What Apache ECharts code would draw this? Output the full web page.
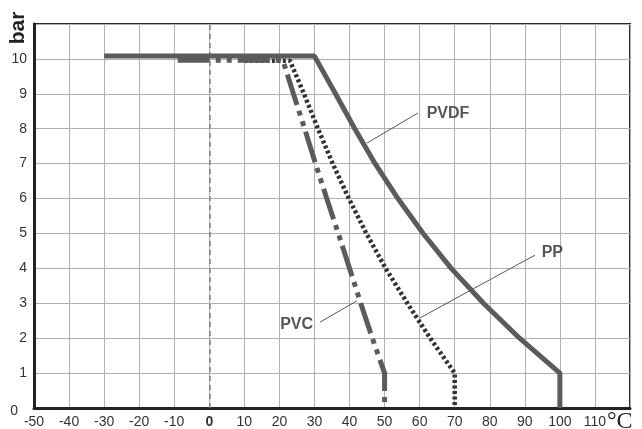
<!DOCTYPE html>
<html>
<head>
<meta charset="utf-8">
<script src="https://cdn.jsdelivr.net/npm/echarts@6/dist/echarts.min.js"></script>
<style>
html,body{margin:0;padding:0;background:#fff;}
#c{width:642px;height:429px;}
</style>
</head>
<body>
<div id="c"></div>
<script>
// x ticks (°C) and y ticks (bar)
const xTicks = [-50, -40, -30, -20, -10, 0, 10, 20, 30, 40, 50, 60, 70, 80, 90, 100, 110];
const yTicks = [0, 1, 2, 3, 4, 5, 6, 7, 8, 9, 10];

// PVDF (solid)
const pvdfTemp = [-30, 30, 36, 41.5, 47.3, 53.8, 61, 69, 78.2, 88.5, 100, 100];
const pvdfBar  = [10.08, 10.08, 9, 8, 7, 6, 5, 4, 3, 2, 1, 0];

// PVC (dash-dot-dot)
const pvcTemp = [-9, 21, 24, 27.2, 30.3, 33.5, 36.8, 40, 43.2, 46.5, 50, 50];
const pvcBar  = [9.96, 9.96, 9, 8, 7, 6, 5, 4, 3, 2, 1, 0];

// PP (dotted)
const ppTemp = [10, 23, 27, 31, 35.2, 39.8, 44.8, 50.3, 56.5, 63, 70, 70];
const ppBar  = [9.95, 9.95, 9, 8, 7, 6, 5, 4, 3, 2, 1, 0];

// labels with leader lines
const labelNames = ['PVDF', 'PP', 'PVC'];
const labelPos   = [[62, 8.42], [94.8, 4.44], [29.6, 2.38]];
const leaderFrom = [[59.5, 8.45], [92.9, 4.38], [31.6, 2.46]];
const leaderTo   = [[45, 7.59], [60.1, 2.58], [42.1, 3.07]];

const zip = (a, b) => a.map((v, i) => [v, b[i]]);
const lineColor = '#5b5b5b';

const series = [
  {
    type: 'line', data: zip(ppTemp, ppBar), symbol: 'none', z: 3,
    lineStyle: { color: '#333', width: 4.5, type: [3, 2.5] },
    markLine: {
      silent: true, symbol: 'none', label: { show: false },
      lineStyle: { color: '#808080', width: 1.5, type: [5, 4] },
      data: [{ xAxis: 0 }]
    }
  },
  {
    type: 'line', data: zip(pvcTemp, pvcBar), symbol: 'none', z: 4,
    lineStyle: { color: lineColor, width: 5, type: [32, 6, 5, 6, 5, 6] }
  },
  {
    type: 'line', data: zip(pvdfTemp, pvdfBar), symbol: 'none', z: 5,
    lineStyle: { color: lineColor, width: 5 }
  }
];

labelNames.forEach((n, i) => {
  series.push({
    type: 'line', data: [leaderFrom[i], leaderTo[i]], symbol: 'none', z: 6,
    lineStyle: { color: '#555', width: 1 }
  });
  series.push({
    type: 'scatter', symbolSize: 0, z: 7,
    data: [{ value: labelPos[i], name: n }],
    label: {
      show: true, formatter: '{b}', position: n === 'PVC' ? 'left' : 'right', distance: 0,
      fontFamily: 'Liberation Sans', fontWeight: 'bold', fontSize: 16, color: '#2a2a2a'
    }
  });
});

const chart = echarts.init(document.getElementById('c'), null, { renderer: 'canvas' });
chart.setOption({
  animation: false,
  backgroundColor: '#fff',
  grid: { left: 34, right: 12, top: 24, bottom: 21, show: true, borderColor: '#2a2a2a', borderWidth: 2 },
  xAxis: {
    type: 'value', min: -50, max: 120, interval: 10,
    axisLine: { show: true, onZero: false, lineStyle: { color: '#222', width: 3 } },
    axisTick: { show: false },
    splitLine: { show: true, lineStyle: { color: '#b0b0b0', width: 1 } },
    axisLabel: {
      margin: 7, fontFamily: 'Liberation Sans', fontSize: 14, color: '#333',
      formatter: v => (xTicks.indexOf(v) < 0 ? '' : (v === 0 ? '{b|0}' : String(v))),
      rich: { b: { fontWeight: 'bold', fontFamily: 'Liberation Sans', fontSize: 14, color: '#333' } }
    }
  },
  yAxis: {
    type: 'value', min: 0, max: 11, interval: 1,
    axisLine: { show: true, onZero: false, lineStyle: { color: '#222', width: 3 } },
    axisTick: { show: false },
    splitLine: { show: true, lineStyle: { color: '#b0b0b0', width: 1 } },
    axisLabel: {
      margin: 7, fontFamily: 'Liberation Sans', fontSize: 14, color: '#333',
      formatter: v => (yTicks.indexOf(v) < 0 ? '' : (v === 0 ? '{z|0}' : String(v))),
      rich: { z: { fontFamily: 'Liberation Sans', fontSize: 14, color: '#333', padding: [6, 9, 0, 0] } }
    }
  },
  graphic: [
    {
      type: 'text', x: 18, y: 28, rotation: Math.PI / 2,
      style: { text: 'bar', font: 'bold 21px "Liberation Sans", Arial, sans-serif', fill: '#222', align: 'center', verticalAlign: 'middle' }
    },
    {
      type: 'text', x: 607, y: 422,
      style: { text: '°C', font: '24px "Liberation Serif", serif', fill: '#222', align: 'left', verticalAlign: 'middle' }
    }
  ],
  series: series
});
</script>
</body>
</html>
